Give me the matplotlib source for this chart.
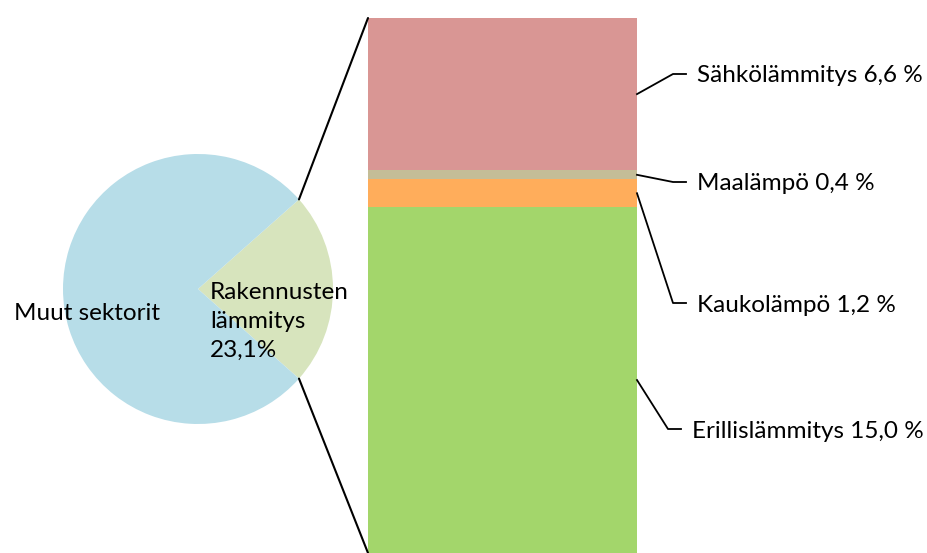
import numpy as np
import matplotlib.pyplot as plt
from matplotlib.patches import ConnectionPatch

plt.rcParams['font.family'] = ['Lato', 'DejaVu Sans']

# pie data
pie_labels = ['Rakennusten\nlämmitys\n23,1%', 'Muut sektorit']
pie_vals = [23.1, 76.9]
pie_colors = ['#D7E4BD', '#B7DDE8']

# breakdown of building heating
bar_labels = ['Erillislämmitys', 'Kaukolämpö', 'Maalämpö', 'Sähkölämmitys']
bar_vals = [15.0, 1.2, 0.4, 6.6]
bar_colors = ['#A3D66B', '#FFAD5B', '#C4BD97', '#D99694']

W, H = 928, 553
FS = 17.5
fig = plt.figure(figsize=(W / 100, H / 100), dpi=100)

# pie axes
ax1 = fig.add_axes([63 / W, (H - 424) / H, 270 / W, 270 / H])
start = -pie_vals[0] * 3.6 / 2
wedges, _ = ax1.pie(pie_vals, colors=pie_colors, startangle=start, radius=1,
                    counterclock=True, wedgeprops=dict(linewidth=0))
ax1.set_xlim(-1, 1)
ax1.set_ylim(-1, 1)
ax1.axis('off')
ax1.text(0.09, -0.24, pie_labels[0], ha='left', va='center', fontsize=FS,
         linespacing=1.45)
ax1.text(-0.82, -0.18, pie_labels[1], ha='center', va='center', fontsize=FS)

# bar axes
ax2 = fig.add_axes([368 / W, 0, (637 - 368) / W, 535 / H])
total = sum(bar_vals)
bottoms = np.concatenate([[0], np.cumsum(bar_vals)[:-1]])
ax2.bar(0, bar_vals, width=1, bottom=bottoms, color=bar_colors, linewidth=0)
ax2.set_xlim(-0.5, 0.5)
ax2.set_ylim(0, total)
ax2.axis('off')

# connecting lines pie -> bar
theta1, theta2 = wedges[0].theta1, wedges[0].theta2
for th, yb in [(theta2, total), (theta1, 0)]:
    x = np.cos(np.radians(th))
    y = np.sin(np.radians(th))
    con = ConnectionPatch(xyA=(-0.5, yb), coordsA=ax2.transData,
                          xyB=(x, y), coordsB=ax1.transData,
                          color='black', linewidth=1.5)
    con.set_clip_on(False)
    fig.add_artist(con)

# labels with leader lines (text positions in pixels from top-left)
text_pos = [(692, 429), (697, 303), (697, 182), (697, 74)]
for lab, v, b, (tx, ty) in zip(bar_labels, bar_vals, bottoms, text_pos):
    fx, fy = ax2.transData.transform((0.5, b + v / 2))
    ey = H - ty
    xs = [fx, tx - 24, tx - 11]
    ys = [fy, ey, ey]
    pts = fig.transFigure.inverted().transform(np.column_stack([xs, ys]))
    fig.add_artist(plt.Line2D(pts[:, 0], pts[:, 1], color='black', linewidth=1.3))
    val = f'{v:.1f}'.replace('.', ',')
    fig.text(tx / W, (ey - 2) / H, f'{lab} {val} %', ha='left', va='center',
             fontsize=FS)

fig.savefig('out.png', dpi=100)
